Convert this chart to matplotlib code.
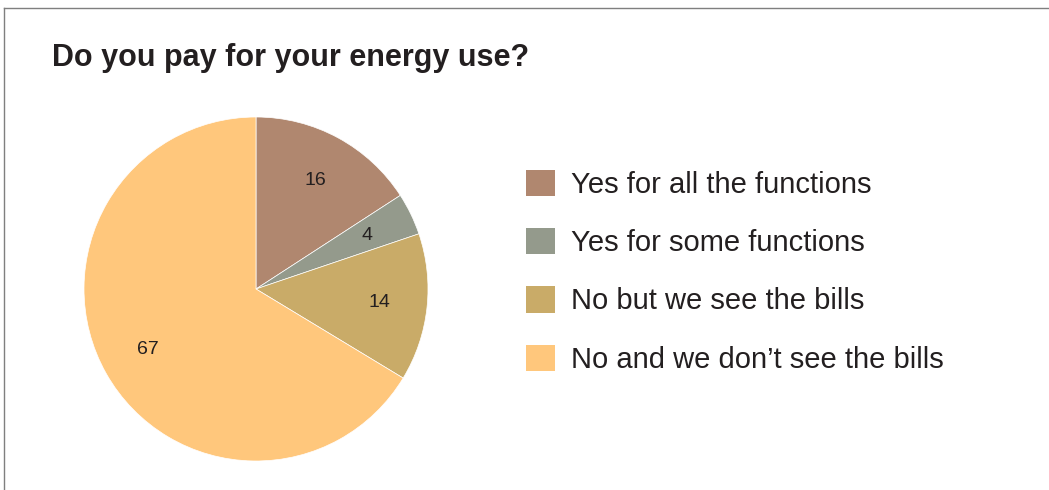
import matplotlib.pyplot as plt
from matplotlib.patches import Patch
from matplotlib.lines import Line2D

# data
labels = ["Yes for all the functions", "Yes for some functions",
          "No but we see the bills", "No and we don\u2019t see the bills"]
values = [16, 4, 14, 67]
colors = ["#B0876F", "#949A8C", "#C9AB68", "#FFC77C"]

plt.rcParams['font.family'] = ['Liberation Sans', 'DejaVu Sans']
text_color = "#231F20"

W, H = 1049, 490
fig = plt.figure(figsize=(W / 100, H / 100), dpi=100)

# pie axes: centre ~(256, 289) px, radius ~172 px
cx, cy, r = 256, 289, 172
ax = fig.add_axes([(cx - r) / W, (H - cy - r) / H, 2 * r / W, 2 * r / H])
total = sum(values)
wedges, texts, autotexts = ax.pie(
    values, colors=colors, startangle=90, counterclock=False,
    autopct=lambda p: "%d" % round(p * total / 100.0), pctdistance=0.72,
    wedgeprops=dict(linewidth=0.5, edgecolor="white"),
    textprops=dict(fontsize=14, color=text_color))
ax.set_xlim(-1, 1)
ax.set_ylim(-1, 1)
ax.set_aspect("equal")

# title
fig.text(52 / W, 1 - 58 / H, "Do you pay for your energy use?",
         fontsize=22, fontweight="bold", color=text_color,
         ha="left", va="center")

# legend
handles = [Patch(facecolor=c, edgecolor="none") for c in colors]
leg = fig.legend(handles, labels, loc="upper left",
                 bbox_to_anchor=(526 / W, 1 - 170 / H), frameon=False,
                 fontsize=21, handlelength=1.0, handleheight=1.0,
                 handletextpad=0.55, labelspacing=1.0, borderpad=0,
                 borderaxespad=0, labelcolor=text_color)

# border lines (top and left)
fig.add_artist(Line2D([4 / W, 1], [1 - 8 / H, 1 - 8 / H],
                      transform=fig.transFigure, color="#7F7F7F", lw=1))
fig.add_artist(Line2D([4 / W, 4 / W], [0, 1 - 8 / H],
                      transform=fig.transFigure, color="#7F7F7F", lw=1))

fig.savefig("out.png", dpi=100, facecolor="white")
